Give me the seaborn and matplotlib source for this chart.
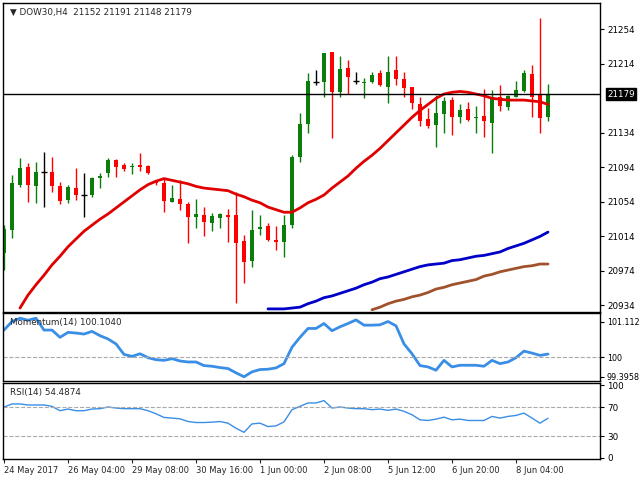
import matplotlib
matplotlib.use("Agg")
import matplotlib.pyplot as plt
import seaborn as sns
import numpy as np
import pandas as pd

sns.set_style("white")
plt.rcParams['font.family'] = ['DejaVu Sans']

opens = [20995,21021,21074,21094,21072,21089,21089,21072,21056,21070,21062,21062,21082,21087,21102,21097,21094,21097,21096,21077,
         21076,21054,21057,21052,21036,21039,21030,21035,21039,21039,21009,20985,21023,21026,21010,21007,21027,21106,21144,21193,
         21193,21228,21181,21209,21194,21192,21193,21203,21187,21207,21197,21187,21167,21150,21143,21156,21172,21152,21162,21151,
         21153,21145,21175,21164,21175,21182,21202,21178,21152]
closes = [21023,21076,21093,21074,21089,21089,21072,21055,21071,21062,21062,21082,21084,21102,21094,21092,21096,21094,21088,21076,
          21055,21059,21052,21036,21040,21031,21038,21040,21036,21006,20984,21021,21025,21010,21007,21027,21106,21144,21194,21193,
          21227,21181,21208,21199,21194,21193,21201,21189,21205,21197,21186,21169,21148,21142,21157,21171,21152,21160,21149,21152,
          21148,21175,21165,21177,21184,21203,21175,21151,21179]
highs = [21027,21085,21105,21099,21100,21112,21106,21077,21074,21093,21087,21083,21087,21105,21104,21099,21099,21111,21097,21079,
         21082,21074,21079,21054,21057,21048,21041,21041,21046,21065,21016,21045,21039,21030,21026,21039,21108,21157,21203,21207,
         21227,21228,21223,21218,21205,21198,21205,21207,21223,21223,21205,21187,21176,21163,21178,21176,21176,21167,21170,21165,
         21185,21184,21189,21178,21194,21207,21213,21267,21191]
lows = [20975,21012,21071,21054,21053,21048,21065,21052,21053,21056,21036,21060,21070,21083,21083,21090,21086,21090,21086,21074,
        21042,21054,21045,21006,21024,21014,21020,21024,21008,20937,20960,20979,21016,21009,20998,20990,21024,21100,21134,21189,
        21176,21128,21176,21179,21191,21174,21192,21188,21169,21189,21176,21162,21142,21140,21118,21134,21131,21146,21148,21134,
        21129,21111,21159,21160,21175,21181,21152,21134,21148]

ma_red = [20931,20946,20958,20969,20981,20991,21002,21011,21020,21027,21034,21040,21047,21054,21061,21068,21074,21078,21081,21079,
          21077,21075,21072,21070,21069,21068,21067,21063,21060,21056,21053,21048,21045,21042,21042,21047,21053,21057,21062,21070,
          21077,21084,21093,21101,21108,21116,21125,21134,21143,21152,21160,21167,21174,21179,21181,21182,21181,21179,21177,21174,
          21173,21172,21172,21172,21171,21170,21167]
ma_blue = [20930,20930,20930,20931,20932,20936,20939,20943,20945,20948,20951,20954,20958,20961,20965,20967,20970,20973,20976,20979,
           20981,20982,20983,20986,20987,20989,20991,20992,20994,20996,21000,21003,21006,21010,21014,21019]
ma_brown = [20929,20932,20936,20939,20941,20944,20946,20949,20953,20955,20958,20960,20962,20964,20968,20970,20973,20975,20977,20979,
            20980,20982,20982]

momentum = [100.855,101.123,101.226,101.164,101.226,100.855,100.855,100.628,100.783,100.762,100.731,100.814,100.680,100.577,100.422,
            100.093,100.031,100.113,99.990,99.928,99.907,99.959,99.887,99.856,99.856,99.743,99.722,99.681,99.650,99.516,99.392,
            99.547,99.619,99.629,99.670,99.804,100.319,100.628,100.906,100.906,101.061,100.834,100.958,101.061,101.174,101.009,
            101.009,101.020,101.123,100.989,100.422,100.113,99.743,99.701,99.598,99.907,99.701,99.753,99.753,99.753,99.722,99.907,
            99.804,99.856,99.990,100.196,100.134,100.062,100.104]
rsi = [70,74.2,74.2,72.8,72.8,72.8,70.9,64.9,67.2,64.9,64.9,67.2,67.7,70,68.6,67.7,67.7,67.7,64.9,60.7,55.6,54.7,53.7,50.0,48.6,
       48.6,49.1,50.0,47.7,40.7,35.1,46.7,47.7,43.0,44.0,49.5,66.3,70.9,75.6,75.6,78.8,68.6,70,68.6,67.7,67.7,66.3,67.2,65.4,67.2,
       64.0,59.3,52.3,51.4,53.3,56.0,52.3,53.3,51.4,51.4,51.4,57.0,54.7,57.0,58.4,61.6,54.7,47.7,54.5]

date_labels = ["24 May 2017", "26 May 04:00", "29 May 08:00", "30 May 16:00", "1 Jun 00:00",
               "2 Jun 08:00", "5 Jun 12:00", "6 Jun 20:00", "8 Jun 04:00"]
date_idx = [0, 8, 16, 24, 32, 40, 48, 56, 64]

price_ticks = [21254, 21214, 21134, 21094, 21054, 21014, 20974, 20934]
last_price = 21179

n = len(closes)
idx = np.arange(n)
df = pd.DataFrame({"i": idx, "o": opens, "c": closes, "h": highs, "l": lows})

W, H = 640, 480
fig = plt.figure(figsize=(6.4, 4.8), dpi=100)
L, R = 3 / W, 600 / W
ax1 = fig.add_axes([L, 1 - 312 / H, R - L, 309 / H])
ax2 = fig.add_axes([L, 1 - 381 / H, R - L, 68 / H])
ax3 = fig.add_axes([L, 1 - 459 / H, R - L, 76 / H])
xl = (-0.125, 74.5)
fs = 6.3

for _, r in df.iterrows():
    if r.c > r.o:
        col = "#0b7d0b"
    elif r.c < r.o:
        col = "#ff0000"
    else:
        col = "black"
    ax1.vlines(r.i, r.l, r.h, color=col, lw=1)
    if r.c == r.o:
        ax1.hlines(r.o, r.i - 0.35, r.i + 0.35, color=col, lw=1)
    else:
        ax1.bar(r.i, abs(r.c - r.o), bottom=min(r.o, r.c), width=0.62, color=col, linewidth=0)

sns.lineplot(x=idx[n - len(ma_red):], y=ma_red, ax=ax1, color="#e00000", lw=2)
sns.lineplot(x=idx[n - len(ma_blue):], y=ma_blue, ax=ax1, color="#0000c8", lw=2)
sns.lineplot(x=idx[n - len(ma_brown):], y=ma_brown, ax=ax1, color="#a0522d", lw=2)
ax1.axhline(last_price, color="black", lw=1)
ax1.set_xlim(*xl)
ax1.set_ylim(20926.4, 21284.5)
ax1.yaxis.tick_right()
ax1.set_yticks(price_ticks)
ax1.set_yticklabels([str(t) for t in price_ticks], fontsize=fs)
ax1.text(1.012, last_price, str(last_price), transform=ax1.get_yaxis_transform(), fontsize=fs,
         color="white", va="center", ha="left", bbox=dict(boxstyle="square,pad=0.15", fc="black", ec="black"))
ax1.text(0.012, 0.985, "\u25bc DOW30,H4  21152 21191 21148 21179", transform=ax1.transAxes,
         fontsize=fs, va="top", ha="left")

sns.lineplot(x=idx, y=momentum, ax=ax2, color="#3a8ee6", lw=2)
ax2.axhline(100, color="#aaaaaa", lw=0.8, ls="--")
ax2.set_xlim(*xl)
ax2.set_ylim(99.26, 101.39)
ax2.yaxis.tick_right()
ax2.set_yticks([101.1127, 100, 99.3958])
ax2.set_yticklabels(["101.1127", "100", "99.3958"], fontsize=fs - 0.5)
ax2.text(0.012, 0.93, "Momentum(14) 100.1040", transform=ax2.transAxes, fontsize=fs, va="top")

sns.lineplot(x=idx, y=rsi, ax=ax3, color="#3a8ee6", lw=1)
for lv in (70, 30):
    ax3.axhline(lv, color="#aaaaaa", lw=0.8, ls="--")
ax3.set_xlim(*xl)
ax3.set_ylim(-1.7, 103.1)
ax3.yaxis.tick_right()
ax3.set_yticks([100, 70, 30, 0])
ax3.set_yticklabels(["100", "70", "30", "0"], fontsize=fs)
ax3.text(0.012, 0.93, "RSI(14) 54.4874", transform=ax3.transAxes, fontsize=fs, va="top")
ax3.set_xticks(date_idx)
ax3.set_xticklabels(date_labels, fontsize=fs - 0.3, ha="left")

for ax in (ax1, ax2, ax3):
    for s in ax.spines.values():
        s.set_color("black")
        s.set_linewidth(1)
    ax.tick_params(axis="y", length=3, pad=2, colors="black", direction="out", right=True)
    ax.set_xlabel("")
    ax.set_ylabel("")
for ax in (ax1, ax2):
    ax.set_xticks([])
ax3.tick_params(axis="x", length=3, pad=2, direction="out", bottom=True)

fig.savefig("out.png", dpi=100)
